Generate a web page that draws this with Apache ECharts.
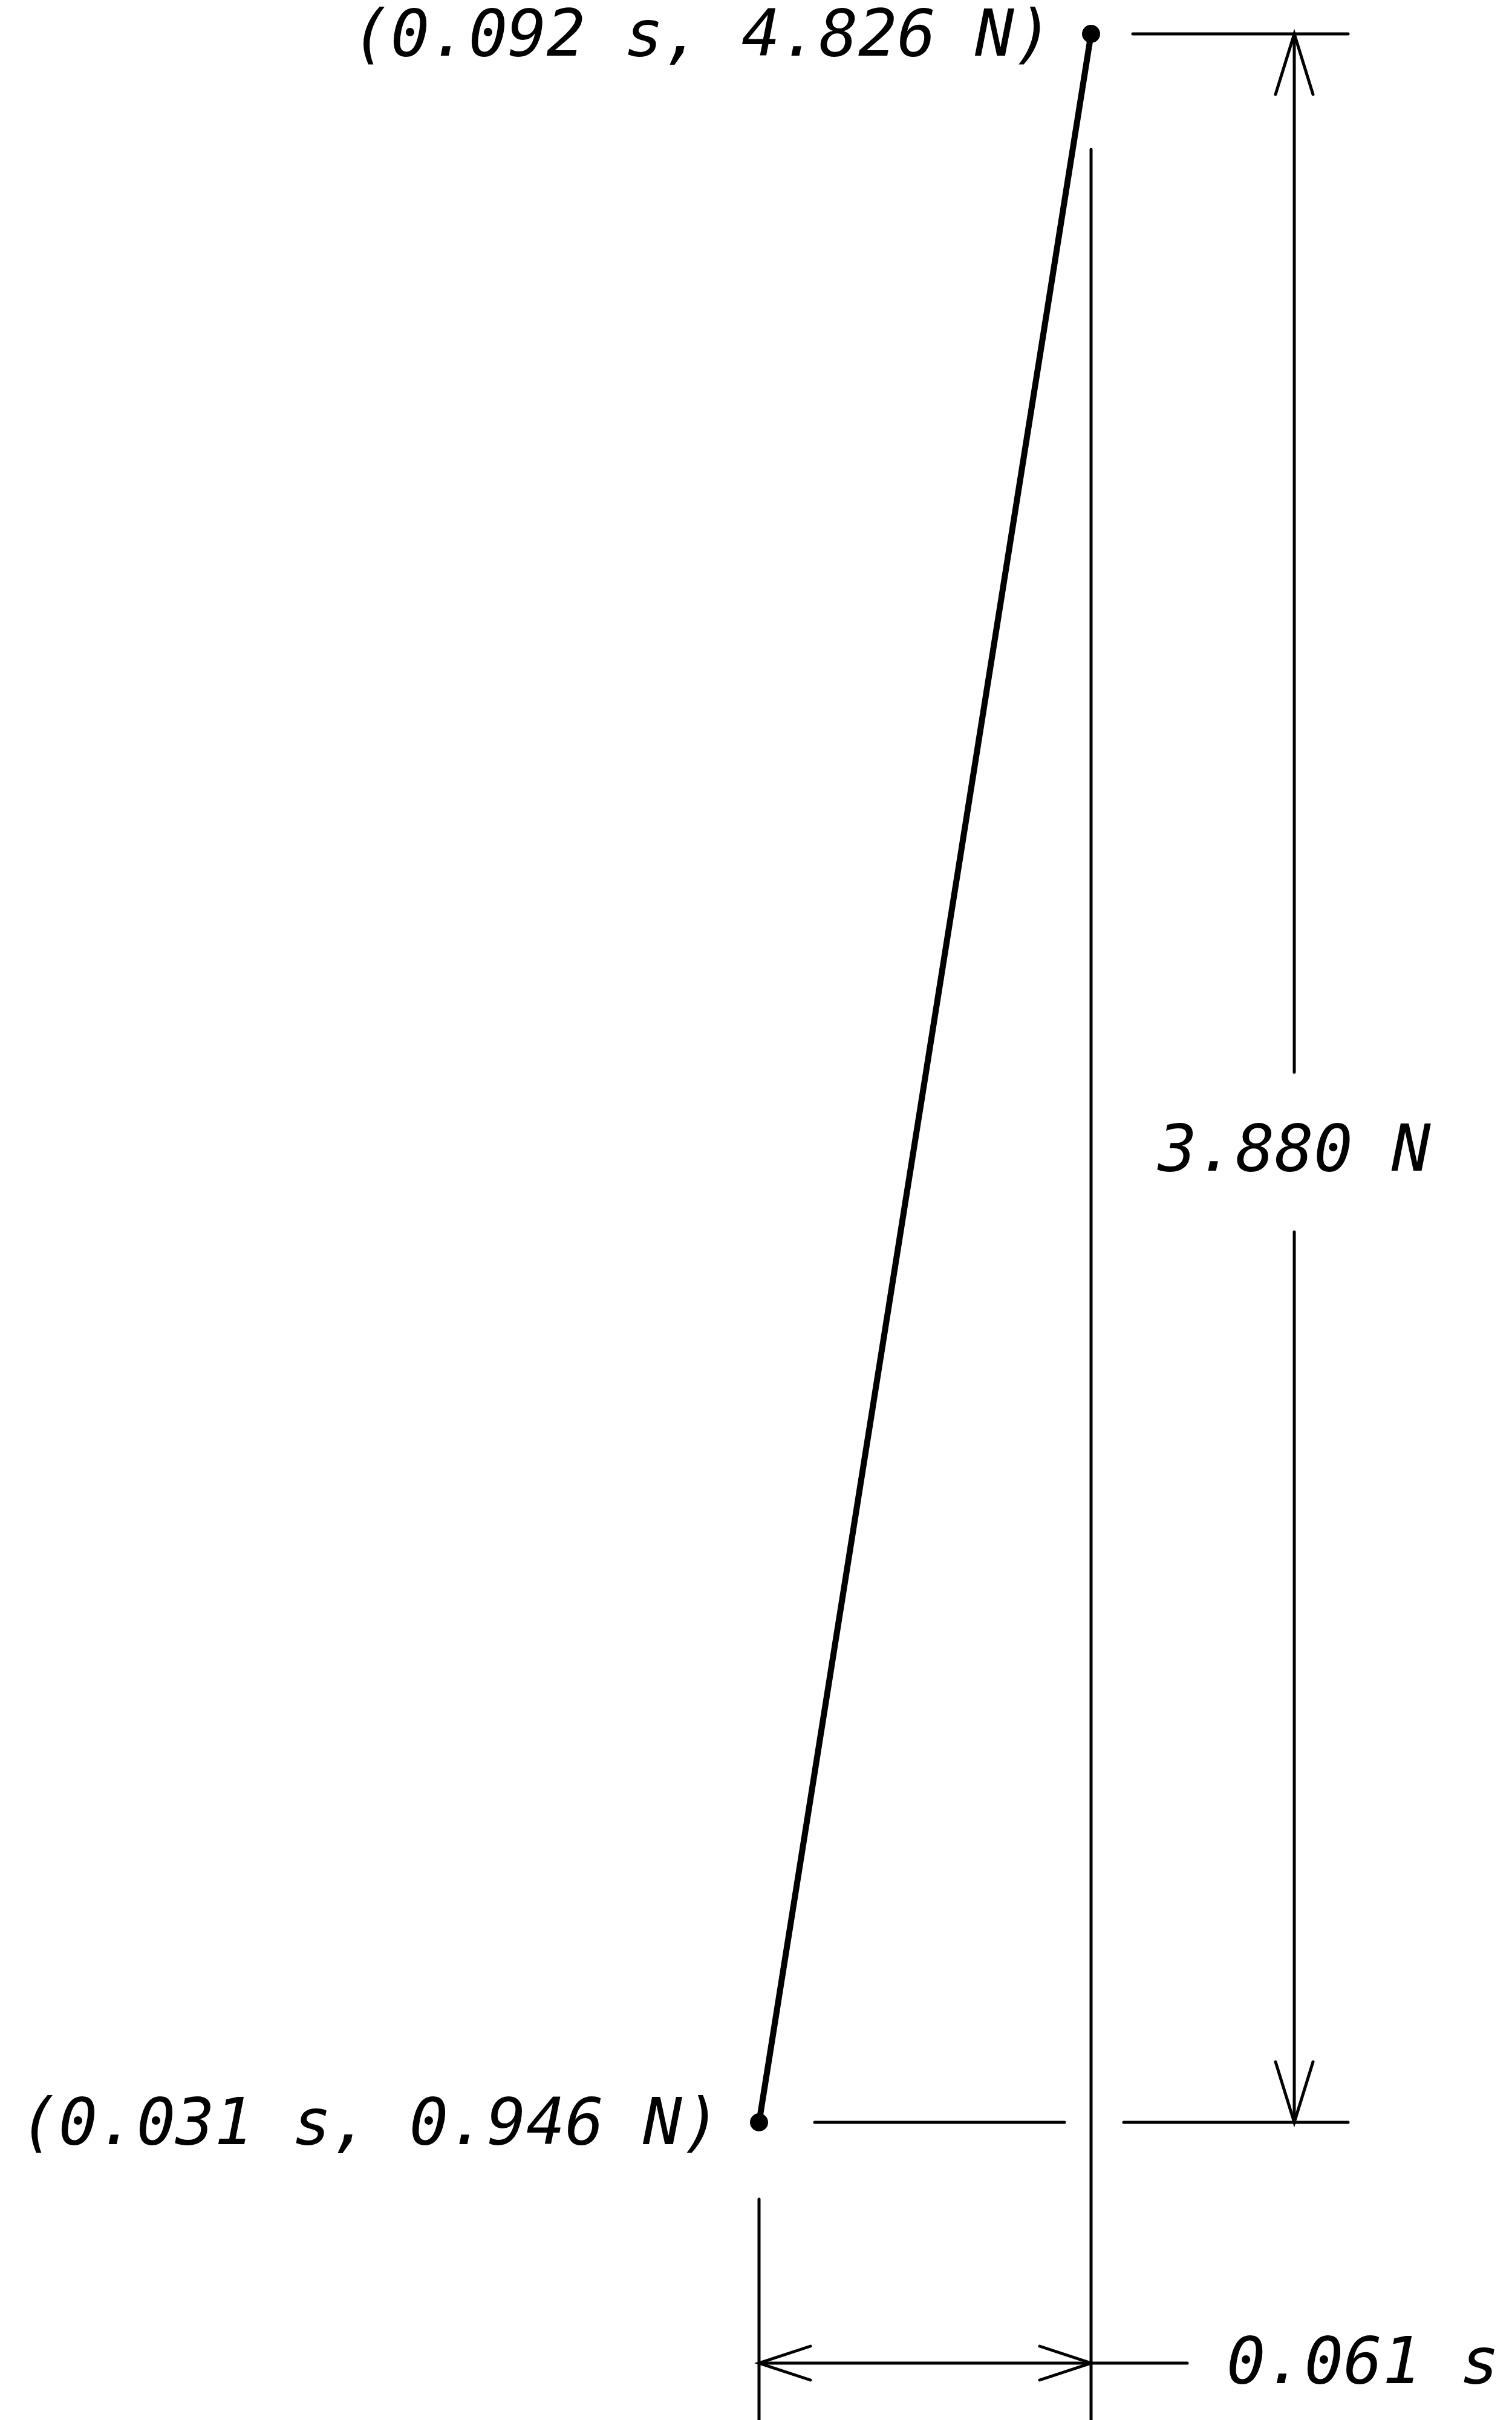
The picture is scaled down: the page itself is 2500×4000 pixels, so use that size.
<!DOCTYPE html>
<html>
<head>
<meta charset="utf-8">
<title>Force vs time</title>
<script src="https://cdn.jsdelivr.net/npm/echarts@6/dist/echarts.min.js"></script>
<style>
  html, body { margin: 0; padding: 0; background: #fff; }
  #main { width: 2500px; height: 4000px; }
</style>
</head>
<body>
<div id="main"></div>
<script>
// measured points (time in s, force in N)
var times = [0.031, 0.092];
var forces = [0.946, 4.826];
var pointLabels = ['(0.031 s, 0.946 N)', '(0.092 s, 4.826 N)'];
// dimension texts: force change, time change
var deltaLabels = ['3.880 N', '0.061 s'];

var FONT = 'italic 107px "DejaVu Sans Mono"';
var INK = '#000';
var THIN = 5;
var TXT_DY = 8; // mono font sits a bit high when middle-aligned

var chart = echarts.init(document.getElementById('main'), null, { renderer: 'canvas' });

var pts = times.map(function(t, i){ return [t, forces[i]]; });

chart.setOption({
    backgroundColor: '#fff',
    animation: false,
    grid: { left: 1255, right: 696, top: 56, bottom: 492 },
    xAxis: { type: 'value', min: times[0], max: times[1], show: false },
    yAxis: { type: 'value', min: forces[0], max: forces[1], show: false },
    series: [{
        type: 'line',
        data: pts,
        clip: false,
        symbol: 'circle',
        symbolSize: 30,
        showAllSymbol: true,
        itemStyle: { color: INK },
        lineStyle: { color: INK, width: 10 },
        label: {
            show: true,
            position: 'left',
            distance: 48,
            offset: [0, TXT_DY],
            color: INK,
            fontSize: 107,
            fontStyle: 'italic',
            fontFamily: 'DejaVu Sans Mono',
            formatter: function(p){ return pointLabels[p.dataIndex]; }
        }
    }]
});

// dimension lines, placed relative to the two plotted points
var p0 = chart.convertToPixel({ gridIndex: 0 }, pts[0]);
var p1 = chart.convertToPixel({ gridIndex: 0 }, pts[1]);
var H = chart.getHeight();
var dimX = p1[0] + 336;           // vertical dimension line
var dimY = p0[1] + 398;           // horizontal dimension line
var textY = p1[1] + 0.534 * (p0[1] - p1[1]);

function seg(a, b){
    return {
        type: 'polyline',
        shape: { points: [a, b] },
        style: { stroke: INK, lineWidth: THIN, fill: null, lineCap: 'round' },
        silent: true
    };
}
function head(a, tip, b){
    return {
        type: 'polyline',
        shape: { points: [a, tip, b] },
        style: { stroke: INK, lineWidth: THIN, fill: null, lineCap: 'round', lineJoin: 'miter' },
        silent: true
    };
}
function txt(s, x, y, align){
    return {
        type: 'text',
        x: x, y: y + TXT_DY,
        style: {
            text: s, fill: INK, font: FONT,
            textAlign: align, align: align,
            textVerticalAlign: 'middle', verticalAlign: 'middle'
        },
        silent: true
    };
}

var g = [
    // extension lines
    seg([p1[0], p1[1] + 191], [p1[0], H]),
    seg([p0[0], p0[1] + 127], [p0[0], H]),
    seg([p1[0] + 69, p1[1]], [dimX + 89, p1[1]]),
    seg([p0[0] + 92, p0[1]], [p1[0] - 44, p0[1]]),
    seg([p1[0] + 54, p0[1]], [dimX + 89, p0[1]]),
    // force dimension
    seg([dimX, p1[1]], [dimX, textY - 127]),
    seg([dimX, textY + 137], [dimX, p0[1]]),
    head([dimX - 31, p1[1] + 100], [dimX, p1[1]], [dimX + 31, p1[1] + 100]),
    head([dimX - 31, p0[1] - 100], [dimX, p0[1]], [dimX + 31, p0[1] - 100]),
    txt(deltaLabels[0], dimX, textY, 'center'),
    // time dimension
    seg([p0[0], dimY], [p1[0] + 159, dimY]),
    head([p0[0] + 85, dimY - 28], [p0[0], dimY], [p0[0] + 85, dimY + 28]),
    head([p1[0] - 85, dimY - 28], [p1[0], dimY], [p1[0] - 85, dimY + 28]),
    txt(deltaLabels[1], p1[0] + 224, dimY - 3, 'left')
];

chart.setOption({ graphic: g });
</script>
</body>
</html>
